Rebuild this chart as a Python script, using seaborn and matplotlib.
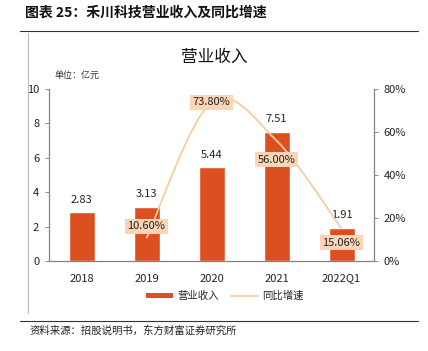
import matplotlib
matplotlib.use("Agg")

import matplotlib.pyplot as plt
import numpy as np
import pandas as pd
import seaborn as sns
from matplotlib.lines import Line2D
from matplotlib.patches import PathPatch, Patch
from matplotlib.path import Path

# data
years = ["2018", "2019", "2020", "2021", "2022Q1"]
revenue = [2.83, 3.13, 5.44, 7.51, 1.91]
growth_years = ["2019", "2020", "2021", "2022Q1"]
growth = [10.60, 73.80, 56.00, 15.06]
left_ticks = [0, 2, 4, 6, 8, 10]
right_ticks = [0, 20, 40, 60, 80]

BAR_RED = "#DC5020"
LINE_PEACH = "#F9CBA3"
BOX_FILL = "#FBD5B5"
GREY = "#808080"

sns.set_theme(style="white")
plt.rcParams["font.family"] = ["Noto Sans CJK SC", "DejaVu Sans"]

fig = plt.figure(figsize=(4.28, 3.51), dpi=100)
ax = fig.add_axes([49 / 428, 1 - 261 / 351, (374 - 49) / 428, (261 - 89) / 351])

df = pd.DataFrame({"year": years, "revenue": revenue})
sns.barplot(data=df, x="year", y="revenue", color=BAR_RED, width=0.4,
            saturation=1, ax=ax)
ax.set_ylim(0, 10)
ax.set_xlim(-0.5, len(years) - 0.5)
ax.set_yticks(left_ticks)
ax.set_yticklabels([str(t) for t in left_ticks])
ax.set_xlabel("")
ax.set_ylabel("")
for p, v in zip(ax.patches, revenue):
    ax.text(p.get_x() + p.get_width() / 2, v + 0.45, f"{v:.2f}",
            ha="center", va="bottom", fontsize=8, color="#222222")

# right axis: growth line
ax2 = ax.twinx()
ax2.set_ylim(0, 80)
ax2.set_yticks(right_ticks)
ax2.set_yticklabels([f"{t}%" for t in right_ticks])
gx = np.array([years.index(y) for y in growth_years], dtype=float)
gy = np.array(growth)

# smooth Catmull-Rom style curve through the points (Bezier segments)
verts = [(gx[0], gy[0])]
codes = [Path.MOVETO]
n = len(gx)
for i in range(n - 1):
    p0 = (gx[max(i - 1, 0)], gy[max(i - 1, 0)])
    p1 = (gx[i], gy[i])
    p2 = (gx[i + 1], gy[i + 1])
    p3 = (gx[min(i + 2, n - 1)], gy[min(i + 2, n - 1)])
    c1 = (p1[0] + (p2[0] - p0[0]) / 6, p1[1] + (p2[1] - p0[1]) / 6)
    c2 = (p2[0] - (p3[0] - p1[0]) / 6, p2[1] - (p3[1] - p1[1]) / 6)
    verts += [c1, c2, p2]
    codes += [Path.CURVE4] * 3
ax2.add_patch(PathPatch(Path(verts, codes), fill=False, edgecolor=LINE_PEACH,
                        lw=1.3, zorder=3))

offsets = [5.5, 0, -8.8, -6.5]
for x, y, off in zip(gx, gy, offsets):
    ax2.text(x, y + off, f"{y:.2f}%", ha="center", va="center", fontsize=8,
             color="#222222", zorder=5,
             bbox=dict(boxstyle="square,pad=0.25", fc=BOX_FILL, ec="none"))

for a in (ax, ax2):
    a.spines["top"].set_visible(False)
    for s in ("left", "right", "bottom"):
        a.spines[s].set_color(GREY)
        a.spines[s].set_linewidth(0.8)
    a.grid(False)
ax.tick_params(axis="y", left=True, length=3, width=0.6, color=GREY,
               labelsize=8, pad=4)
ax.tick_params(axis="x", bottom=False, labelsize=8, pad=3)
ax2.tick_params(axis="y", right=True, length=3, width=0.6, color=GREY,
                labelsize=8, pad=4)
for lab in ax.get_xticklabels() + ax.get_yticklabels() + ax2.get_yticklabels():
    lab.set_color("#222222")

# chart title and unit
fig.text(0.5, 1 - 57 / 351, "营业收入", ha="center", va="center",
         fontsize=12, color="#111111")
fig.text(55 / 428, 1 - 75 / 351, "单位：亿元", ha="left", va="center",
         fontsize=6.5, color="#333333")

handles = [Patch(facecolor=BAR_RED, edgecolor="none"),
           Line2D([0], [0], color=LINE_PEACH, lw=1.3)]
fig.legend(handles, ["营业收入", "同比增速"], loc="center",
           bbox_to_anchor=(225 / 428, 1 - 296 / 351), ncol=2, frameon=False,
           fontsize=7.5, handlelength=2.6, handleheight=0.4, columnspacing=1.2,
           handletextpad=0.4)

# report frame: header, rules and source
fig.text(25 / 428, 1 - 13 / 351, "图表 25：禾川科技营业收入及同比增速",
         ha="left", va="center", fontsize=10, fontweight="bold", color="#111111")
fig.add_artist(Line2D([20 / 428, 418 / 428], [1 - 31 / 351] * 2,
                      color="#333333", lw=0.8))
fig.add_artist(Line2D([28 / 428] * 2, [1 - 33 / 351, 1 - 313 / 351],
                      color="#BBBBBB", lw=0.8))
fig.add_artist(Line2D([20 / 428, 418 / 428], [1 - 321 / 351] * 2,
                      color="#333333", lw=0.8))
fig.text(30 / 428, 1 - 331 / 351, "资料来源：招股说明书，东方财富证券研究所",
         ha="left", va="center", fontsize=7.5, color="#222222")

fig.savefig("out.png", dpi=100)
